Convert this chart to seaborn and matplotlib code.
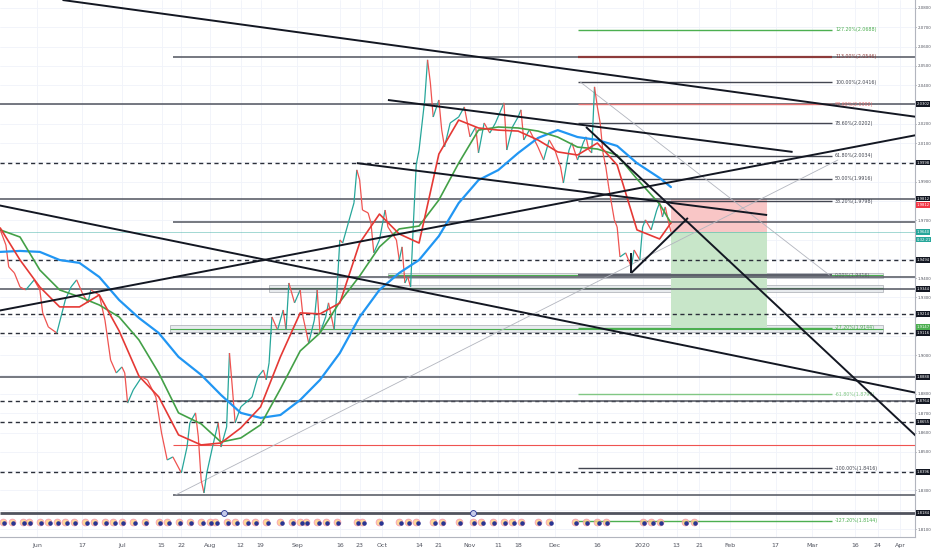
import numpy as np
import pandas as pd
import matplotlib
matplotlib.use('Agg')
import matplotlib.pyplot as plt
import matplotlib.dates as mdates
import matplotlib.transforms as mtransforms
from matplotlib.collections import LineCollection
from matplotlib.patches import Rectangle
from matplotlib.ticker import MultipleLocator, FuncFormatter
import seaborn as sns

# --- price path (closes) ---
price_dates = [
    '2019-05-19', '2019-05-21', '2019-05-22', '2019-05-24', '2019-05-26', '2019-05-28', '2019-05-31',
    '2019-06-02', '2019-06-03', '2019-06-05', '2019-06-08', '2019-06-11', '2019-06-13', '2019-06-15',
    '2019-06-17', '2019-06-19', '2019-06-20', '2019-06-23', '2019-06-25', '2019-06-27', '2019-06-29',
    '2019-07-01', '2019-07-02', '2019-07-03', '2019-07-05', '2019-07-08', '2019-07-10', '2019-07-13',
    '2019-07-15', '2019-07-17', '2019-07-19', '2019-07-22', '2019-07-24', '2019-07-25', '2019-07-27',
    '2019-07-28', '2019-07-29', '2019-07-30', '2019-07-31', '2019-08-02', '2019-08-04', '2019-08-05',
    '2019-08-07', '2019-08-08', '2019-08-09', '2019-08-10', '2019-08-12', '2019-08-16', '2019-08-18',
    '2019-08-20', '2019-08-21', '2019-08-22', '2019-08-23', '2019-08-25', '2019-08-27', '2019-08-28',
    '2019-08-29', '2019-08-31', '2019-09-02', '2019-09-03', '2019-09-05', '2019-09-07', '2019-09-08',
    '2019-09-09', '2019-09-11', '2019-09-12', '2019-09-14', '2019-09-15', '2019-09-16', '2019-09-17',
    '2019-09-19', '2019-09-21', '2019-09-22', '2019-09-23', '2019-09-24', '2019-09-26', '2019-09-27',
    '2019-09-28', '2019-09-30', '2019-10-02', '2019-10-03', '2019-10-06', '2019-10-07', '2019-10-08',
    '2019-10-09', '2019-10-10', '2019-10-11', '2019-10-12', '2019-10-13', '2019-10-14', '2019-10-16',
    '2019-10-17', '2019-10-18', '2019-10-19', '2019-10-21', '2019-10-22', '2019-10-23', '2019-10-25',
    '2019-10-28', '2019-10-30', '2019-11-01', '2019-11-03', '2019-11-04', '2019-11-06', '2019-11-08',
    '2019-11-10', '2019-11-13', '2019-11-14', '2019-11-16', '2019-11-18', '2019-11-19', '2019-11-20',
    '2019-11-22', '2019-11-25', '2019-11-27', '2019-11-29', '2019-12-01', '2019-12-03', '2019-12-04',
    '2019-12-06', '2019-12-07', '2019-12-09', '2019-12-11', '2019-12-12', '2019-12-13', '2019-12-14',
    '2019-12-15', '2019-12-16', '2019-12-17', '2019-12-18', '2019-12-19', '2019-12-20', '2019-12-22',
    '2019-12-23', '2019-12-24', '2019-12-26', '2019-12-28', '2019-12-29', '2019-12-31', '2020-01-01',
    '2020-01-02', '2020-01-04', '2020-01-06', '2020-01-07', '2020-01-08', '2020-01-09', '2020-01-10',
    '2020-01-11',
]
price_close = [
    1.9650, 1.9572, 1.9458, 1.9427, 1.9354, 1.9339, 1.9391,
    1.9339, 1.9220, 1.9147, 1.9116, 1.9287, 1.9354, 1.9391,
    1.9323, 1.9272, 1.9339, 1.9313, 1.9183, 1.8976, 1.8909,
    1.8940, 1.8909, 1.8753, 1.8821, 1.8888, 1.8873, 1.8784,
    1.8598, 1.8458, 1.8474, 1.8391, 1.8525, 1.8650, 1.8702,
    1.8577, 1.8354, 1.8287, 1.8391, 1.8525, 1.8650, 1.8525,
    1.8629, 1.9012, 1.8836, 1.8650, 1.8733, 1.8784, 1.8888,
    1.8924, 1.8873, 1.8961, 1.9199, 1.9132, 1.9235, 1.9132,
    1.9375, 1.9272, 1.9339, 1.9199, 1.9064, 1.9183, 1.9339,
    1.9116, 1.9199, 1.9272, 1.9132, 1.9339, 1.9598, 1.9582,
    1.9686, 1.9790, 1.9961, 1.9909, 1.9753, 1.9738, 1.9686,
    1.9531, 1.9598, 1.9753, 1.9665, 1.9598, 1.9494, 1.9562,
    1.9375, 1.9406, 1.9354, 1.9686, 1.9987, 2.0064, 2.0323,
    2.0531, 2.0411, 2.0235, 2.0323, 2.0168, 2.0080, 2.0204,
    2.0235, 2.0287, 2.0132, 2.0183, 2.0049, 2.0204, 2.0152,
    2.0204, 2.0308, 2.0064, 2.0183, 2.0235, 2.0272, 2.0116,
    2.0168, 2.0080, 2.0012, 2.0116, 2.0064, 1.9976, 1.9893,
    2.0064, 2.0101, 2.0012, 2.0101, 2.0132, 2.0064, 2.0049,
    2.0391, 2.0287, 2.0204, 2.0049, 1.9976, 1.9873, 1.9702,
    1.9665, 1.9510, 1.9531, 1.9458, 1.9546, 1.9494, 1.9665,
    1.9702, 1.9650, 1.9753, 1.9790, 1.9717, 1.9769, 1.9702,
    1.9640,
]

# --- moving averages ---
ma_dates = [
    '2019-05-19', '2019-05-26', '2019-06-02', '2019-06-09', '2019-06-16', '2019-06-23', '2019-06-30',
    '2019-07-07', '2019-07-14', '2019-07-21', '2019-07-29', '2019-08-05', '2019-08-12', '2019-08-19',
    '2019-08-26', '2019-09-02', '2019-09-09', '2019-09-16', '2019-09-23', '2019-09-30', '2019-10-07',
    '2019-10-14', '2019-10-21', '2019-10-28', '2019-11-04', '2019-11-11', '2019-11-18', '2019-11-25',
    '2019-12-02', '2019-12-09', '2019-12-16', '2019-12-23', '2019-12-30', '2020-01-07', '2020-01-11',
]
ma_fast = [1.9660, 1.9494, 1.9354, 1.9251, 1.9251, 1.9313, 1.9127,
           1.8893, 1.8785, 1.8588, 1.8536, 1.8546, 1.8624, 1.8733,
           1.8992, 1.9220, 1.9215, 1.9271, 1.9582, 1.9732, 1.9629,
           1.9582, 2.0043, 2.0219, 2.0178, 2.0167, 2.0162, 2.0116,
           2.0054, 2.0038, 2.0100, 1.9986, 1.9650, 1.9603, 1.9686]
ma_mid = [1.9650, 1.9613, 1.9442, 1.9339, 1.9303, 1.9261, 1.9199,
          1.9080, 1.8909, 1.8702, 1.8645, 1.8551, 1.8572, 1.8640,
          1.8826, 1.9023, 1.9116, 1.9277, 1.9411, 1.9562, 1.9655,
          1.9670, 1.9805, 1.9996, 2.0167, 2.0183, 2.0178, 2.0162,
          2.0131, 2.0079, 2.0069, 2.0038, 1.9914, 1.9784, 1.9686]
ma_slow = [1.9536, 1.9541, 1.9536, 1.9494, 1.9479, 1.9406, 1.9287,
           1.9194, 1.9116, 1.8992, 1.8899, 1.8795, 1.8702, 1.8676,
           1.8691, 1.8769, 1.8873, 1.9012, 1.9199, 1.9339, 1.9427,
           1.9494, 1.9618, 1.9789, 1.9908, 1.9960, 2.0048, 2.0126,
           2.0167, 2.0131, 2.0116, 2.0085, 1.9996, 1.9919, 1.9872]

# --- horizontal levels (None = from left edge) ---
level_price = [2.0546, 2.0302, 1.9998, 1.9812, 1.9690, 1.9494, 1.9406, 1.9344, 1.9214,
               1.9116, 1.8888, 1.8764, 1.8764, 1.8655, 1.8536, 1.8396, 1.8277, 1.8184]
level_start = ['2019-07-19', None, None, None, '2019-07-19', None, '2019-07-19', None, None,
               None, None, None, '2019-07-19', None, '2019-07-19', None, '2019-07-19', None]
level_kind = ['ray', 'line', 'dash', 'line', 'ray', 'dash', 'ray', 'line', 'dash',
              'dash', 'line', 'dash', 'ray', 'dash', 'red', 'dash', 'ray', 'thick']
boxed_prices = [2.0302, 1.9998, 1.9812, 1.9494, 1.9344, 1.9214, 1.9116, 1.8888,
                1.8764, 1.8655, 1.8396, 1.8184]

# --- fibonacci retracement ---
fib_start, fib_end = '2019-12-09', '2020-03-08'
fib_ratio = ['127.20%', '113.00%', '100.00%', '88.60%', '78.60%', '61.80%', '50.00%',
             '38.20%', '0.00%', '-27.20%', '-61.80%', '-100.00%', '-127.20%']
fib_price = [2.0688, 2.0546, 2.0416, 2.0302, 2.0202, 2.0034, 1.9916,
             1.9798, 1.9416, 1.9144, 1.8798, 1.8416, 1.8144]
fib_kind = ['green', 'brown', 'dark', 'red', 'dark', 'dark', 'dark',
            'dark', 'zero', 'green', 'lightgreen', 'dark', 'green']

# --- trend lines: (date1, price1, date2, price2) ---
trend_d1 = ['2019-06-10', '2019-10-03', '2019-09-22', '2019-05-18', '2019-05-18', '2019-12-12', '2019-12-28', '2019-12-28']
trend_p1 = [2.0841, 2.0323, 1.9996, 1.9230, 1.9779, 2.0183, 1.9427, 1.9427]
trend_d2 = ['2020-04-07', '2020-02-23', '2020-02-14', '2020-04-07', '2020-04-07', '2020-04-07', '2020-01-17', '2019-12-28']
trend_p2 = [2.0235, 2.0054, 1.9727, 2.0142, 1.8805, 1.8577, 1.9712, 1.9530]
thin_d1 = ['2019-07-20', '2019-12-10']
thin_p1 = [1.8277, 2.0416]
thin_d2 = ['2020-03-10', '2020-03-07']
thin_p2 = [2.0012, 1.9416]

# --- zones: (start, end, low, high) ---
zone_start = ['2019-10-03', '2019-08-22', '2019-07-18']
zone_end = ['2020-03-26', '2020-03-26', '2020-03-26']
zone_low = [1.9401, 1.9329, 1.9121]
zone_high = [1.9427, 1.9365, 1.9157]

# --- short position tool ---
pos_start, pos_end = '2020-01-11', '2020-02-14'
pos_entry, pos_stop, pos_target = 1.9640, 1.9812, 1.9147
countdown = '0:32:21'

# --- economic events row ---
event_dates = ['2019-05-20', '2019-05-23', '2019-05-27', '2019-05-29', '2019-06-02', '2019-06-05',
               '2019-06-08', '2019-06-11', '2019-06-14', '2019-06-18', '2019-06-21', '2019-06-25',
               '2019-06-28', '2019-07-01', '2019-07-05', '2019-07-09', '2019-07-14', '2019-07-17',
               '2019-07-21', '2019-07-25', '2019-07-29', '2019-08-01', '2019-08-03', '2019-08-07',
               '2019-08-10', '2019-08-14', '2019-08-17', '2019-08-21', '2019-08-26', '2019-08-30',
               '2019-09-02', '2019-09-04', '2019-09-08', '2019-09-11', '2019-09-15', '2019-09-22',
               '2019-09-24', '2019-09-30', '2019-10-07', '2019-10-10', '2019-10-13', '2019-10-19',
               '2019-10-22', '2019-10-28', '2019-11-02', '2019-11-05', '2019-11-09', '2019-11-13',
               '2019-11-16', '2019-11-19', '2019-11-25', '2019-11-29', '2019-12-08', '2019-12-12',
               '2019-12-16', '2019-12-19', '2020-01-01', '2020-01-04', '2020-01-07', '2020-01-16',
               '2020-01-19']
raised_events = ['2019-08-06', '2019-11-02']

tick_dates = ['2019-06-01', '2019-06-17', '2019-07-01', '2019-07-15', '2019-07-22', '2019-08-01',
              '2019-08-12', '2019-08-19', '2019-09-01', '2019-09-16', '2019-09-23', '2019-10-01',
              '2019-10-14', '2019-10-21', '2019-11-01', '2019-11-11', '2019-11-18', '2019-12-01',
              '2019-12-16', '2020-01-01', '2020-01-13', '2020-01-21', '2020-02-01', '2020-02-17',
              '2020-03-01', '2020-03-16', '2020-03-24', '2020-04-01']
tick_labels = ['Jun', '17', 'Jul', '15', '22', 'Aug', '12', '19', 'Sep', '16', '23', 'Oct',
               '14', '21', 'Nov', '11', '18', 'Dec', '16', '2020', '13', '21', 'Feb', '17',
               'Mar', '16', '24', 'Apr']

# colours
UP, DOWN = '#26a69a', '#ef5350'
INK = '#131722'
fib_colors = {'green': '#4caf50', 'brown': '#8d3b3b', 'dark': '#434651', 'red': '#e57373',
              'zero': '#5d606b', 'lightgreen': '#81c784'}

sns.set_theme(style='white')
plt.rcParams['font.family'] = ['DejaVu Sans']

fig = plt.figure(figsize=(9.32, 5.5), dpi=100)
ax = fig.add_axes([0, 13 / 550, 915 / 932, 537 / 550])

d = lambda s: mdates.date2num(pd.Timestamp(s))
x_left, x_right = d('2019-05-18 22:00'), d('2020-04-06 06:00')
ax.set_xlim(x_left, x_right)
ax.set_ylim(1.8059, 2.0841)

# price scale: hide tick text where a price box sits
box_all = boxed_prices + [pos_stop - 0.0032, price_close[-1], price_close[-1] - 0.0040, pos_target]


def price_fmt(v, pos):
    if min(abs(v - b) for b in box_all) < 0.0035:
        return ''
    return f'{v:.4f}'


ax.yaxis.set_major_locator(MultipleLocator(0.01))
ax.yaxis.set_major_formatter(FuncFormatter(price_fmt))
ax.set_xticks([d(s) for s in tick_dates])
ax.set_xticklabels(tick_labels)
ax.grid(True, color='#f0f3fa', linewidth=0.6)
ax.set_axisbelow(True)

# zones
for s, e, lo, hi in zip(zone_start, zone_end, zone_low, zone_high):
    ax.add_patch(Rectangle((d(s), lo), d(e) - d(s), hi - lo, facecolor='#e3e6ea',
                           edgecolor='#9598a1', linewidth=0.5, alpha=0.8, zorder=1))
    ax.hlines((lo + hi) / 2, d(s), d(e), color='#4caf50', linewidth=0.8, zorder=1)

# position tool
ax.add_patch(Rectangle((d(pos_start), pos_entry), d(pos_end) - d(pos_start), pos_stop - pos_entry,
                       facecolor='#f9c6c6', edgecolor='none', zorder=1))
ax.add_patch(Rectangle((d(pos_start), pos_target), d(pos_end) - d(pos_start), pos_entry - pos_target,
                       facecolor='#c8e6c9', edgecolor='none', zorder=1))

# horizontal levels
for p, s, k in zip(level_price, level_start, level_kind):
    x0 = x_left if s is None else d(s)
    if k == 'dash':
        ax.hlines(p, x0, x_right, colors='#2a2e39', linestyles=(0, (3, 2.5)), linewidth=1.0, zorder=2)
    elif k == 'red':
        ax.hlines(p, x0, x_right, colors='#ef5350', linewidth=0.8, zorder=2)
    elif k == 'thick':
        ax.hlines(p, x0, x_right, colors='#50535e', linewidth=2.0, zorder=2)
    else:
        ax.hlines(p, x0, x_right, colors='#50535e', linewidth=1.1, zorder=2)

# current price line
ax.hlines(price_close[-1], x_left, x_right, colors=UP, linewidth=0.6, alpha=0.5, zorder=2)

# fibonacci
for r, p, k in zip(fib_ratio, fib_price, fib_kind):
    lw = 1.6 if k in ('zero', 'brown') else 1.0
    ax.hlines(p, d(fib_start), d(fib_end), colors=fib_colors[k], linewidth=lw, zorder=2)
    ax.text(d(fib_end) + 1, p, f'{r}({p:.4f})', fontsize=3.4, color=fib_colors[k],
            va='center', ha='left', zorder=3)

# thin diagonal guides
for a, pa, b, pb in zip(thin_d1, thin_p1, thin_d2, thin_p2):
    ax.plot([d(a), d(b)], [pa, pb], color='#b2b5be', linewidth=0.6, zorder=2)

# candles drawn as coloured price path
t = np.array([d(s) for s in price_dates])
c = np.array(price_close)
segs = [[(t[i - 1], c[i - 1]), (t[i], c[i])] for i in range(1, len(t))]
cols = [UP if c[i] >= c[i - 1] else DOWN for i in range(1, len(t))]
ax.add_collection(LineCollection(segs, colors=cols, linewidths=0.9, zorder=3))

# moving averages
ma = pd.DataFrame({'date': pd.to_datetime(ma_dates), 'fast': ma_fast, 'mid': ma_mid, 'slow': ma_slow})
ma['x'] = mdates.date2num(ma['date'])
sns.lineplot(data=ma, x='x', y='slow', color='#2196f3', linewidth=1.6, ax=ax, zorder=4)
sns.lineplot(data=ma, x='x', y='mid', color='#43a047', linewidth=1.2, ax=ax, zorder=4)
sns.lineplot(data=ma, x='x', y='fast', color='#e53935', linewidth=1.2, ax=ax, zorder=4)

# trend lines
for a, pa, b, pb in zip(trend_d1, trend_p1, trend_d2, trend_p2):
    ax.plot([d(a), d(b)], [pa, pb], color=INK, linewidth=1.4, zorder=5, solid_capstyle='butt')

# event markers along the bottom
ev = np.array([d(s) for s in event_dates])
trans_ev = mtransforms.blended_transform_factory(ax.transData, ax.transAxes)
ax.scatter(ev, np.full(len(ev), 0.028), s=24, color='#ffcc80', alpha=0.8, transform=trans_ev,
           edgecolors='#f48fb1', linewidths=0.6, zorder=6, clip_on=False)
ax.scatter(ev + 0.5, np.full(len(ev), 0.027), s=5, color='#283593', transform=trans_ev,
           zorder=7, clip_on=False)
rv = np.array([d(s) for s in raised_events])
ax.scatter(rv, np.full(len(rv), 0.045), s=18, color='#c5cae9', edgecolors='#283593',
           linewidths=0.6, transform=trans_ev, zorder=7, clip_on=False)

# price-axis boxes
trans_y = mtransforms.blended_transform_factory(ax.transAxes, ax.transData)
box_kw = dict(transform=trans_y, fontsize=2.7, color='white', va='center', ha='left',
              clip_on=False, zorder=8)
for p in boxed_prices:
    ax.text(1.0015, p, f'{p:.4f}', bbox=dict(boxstyle='square,pad=0.2', fc=INK, ec='none'), **box_kw)
ax.text(1.0015, pos_stop - 0.0032, f'{pos_stop:.4f}',
        bbox=dict(boxstyle='square,pad=0.2', fc='#f23645', ec='none'), **box_kw)
ax.text(1.0015, price_close[-1], f'{price_close[-1]:.4f}',
        bbox=dict(boxstyle='square,pad=0.2', fc=UP, ec='none'), **box_kw)
ax.text(1.0015, price_close[-1] - 0.0040, countdown,
        bbox=dict(boxstyle='square,pad=0.2', fc=UP, ec='none'), **box_kw)
ax.text(1.0015, pos_target, f'{pos_target:.4f}',
        bbox=dict(boxstyle='square,pad=0.2', fc='#4caf50', ec='none'), **box_kw)

# axes cosmetics
ax.yaxis.tick_right()
ax.tick_params(axis='y', labelsize=2.9, colors='#50535e', length=1, width=0.5, pad=1)
ax.tick_params(axis='x', labelsize=4.5, colors='#50535e', length=0, pad=4)
ax.set_xlabel('')
ax.set_ylabel('')
for side in ('top', 'left'):
    ax.spines[side].set_visible(False)
for side in ('right', 'bottom'):
    ax.spines[side].set_color('#b2b5be')
    ax.spines[side].set_linewidth(0.8)

fig.savefig('out.png', dpi=100)
